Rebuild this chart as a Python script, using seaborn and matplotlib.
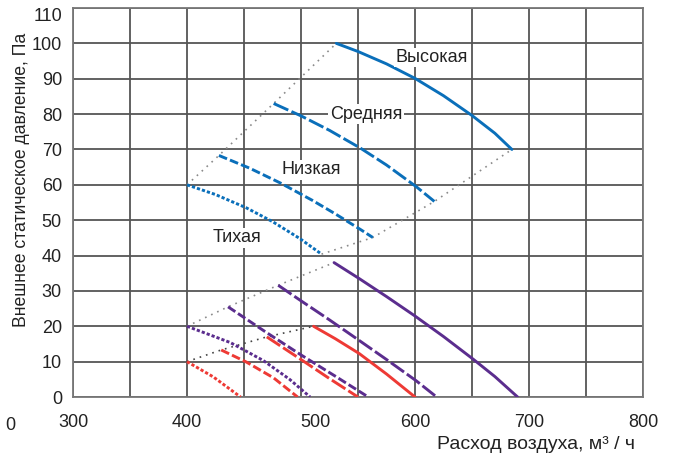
import numpy as np
import pandas as pd
import matplotlib
matplotlib.use("Agg")
import matplotlib.pyplot as plt
import matplotlib.transforms as mtransforms
import seaborn as sns

# -------------------- данные --------------------
# синие кривые (верхняя группа)
blue_high_x = [531, 550, 575, 600, 625, 650, 670, 685]
blue_high_y = [100, 97.7, 94.2, 90.1, 85.2, 79.6, 74.6, 70]
blue_mid_x = [476, 500, 525, 552, 575, 601, 617]
blue_mid_y = [83, 79.5, 75.4, 70.4, 65.6, 59.5, 55.3]
blue_low_x = [428, 455, 482, 510, 530, 552, 563]
blue_low_y = [68.3, 64.7, 60.5, 55.6, 51.8, 47.4, 45.1]
blue_quiet_x = [400, 425, 452, 475, 499, 518]
blue_quiet_y = [60, 57.25, 53.5, 49.6, 44.8, 40.4]

# фиолетовые кривые
purple_high_x = [529, 551, 575, 600, 625, 651, 670, 690]
purple_high_y = [38, 33.5, 28.4, 22.9, 17.1, 10.7, 5.8, 0]
purple_mid_x = [480, 500, 525, 551, 575, 601, 619]
purple_mid_y = [31.6, 27.2, 21.8, 16.0, 10.6, 4.6, 0]
purple_low_x = [436, 468, 500, 530, 559]
purple_low_y = [25.5, 18.6, 11.9, 5.9, 0]
purple_quiet_x = [400, 438, 467, 490, 508]
purple_quiet_y = [20, 15.4, 10.3, 5.0, 0]

# красные кривые
red_high_x = [511, 530, 551, 575, 600]
red_high_y = [20, 16.5, 12.3, 6.5, 0]
red_mid_x = [470, 500, 525, 550]
red_mid_y = [17, 10.6, 5.2, 0]
red_low_x = [430, 452, 476, 497]
red_low_y = [13.3, 9.9, 5.4, 0]
red_quiet_x = [400, 423, 447]
red_quiet_y = [10, 5.7, 0]

speeds = ["Тихая", "Низкая", "Средняя", "Высокая"]
label_x = [444, 509, 557, 615]
label_y = [45, 64.3, 80, 96]

x_ticks = [300, 350, 400, 450, 500, 550, 600, 650, 700, 750, 800]
x_ticklabels = ["300", "", "400", "", "500", "", "600", "", "700", "", "800"]
y_ticks = [0, 10, 20, 30, 40, 50, 60, 70, 80, 90, 100, 110]

COLORS = {"blue": "#0a6fba", "purple": "#5b2d8e", "red": "#ee3a35"}
DASHES = {"Высокая": "", "Средняя": (5.5, 1.2), "Низкая": (3.0, 1.1), "Тихая": (1.1, 0.7)}

curves = {
    ("blue", "Высокая"): (blue_high_x, blue_high_y),
    ("blue", "Средняя"): (blue_mid_x, blue_mid_y),
    ("blue", "Низкая"): (blue_low_x, blue_low_y),
    ("blue", "Тихая"): (blue_quiet_x, blue_quiet_y),
    ("purple", "Высокая"): (purple_high_x, purple_high_y),
    ("purple", "Средняя"): (purple_mid_x, purple_mid_y),
    ("purple", "Низкая"): (purple_low_x, purple_low_y),
    ("purple", "Тихая"): (purple_quiet_x, purple_quiet_y),
    ("red", "Высокая"): (red_high_x, red_high_y),
    ("red", "Средняя"): (red_mid_x, red_mid_y),
    ("red", "Низкая"): (red_low_x, red_low_y),
    ("red", "Тихая"): (red_quiet_x, red_quiet_y),
}

rows = []
for (grp, spd), (xs, ys) in curves.items():
    for xv, yv in zip(xs, ys):
        rows.append({"flow": xv, "pressure": yv, "group": grp, "speed": spd})
df = pd.DataFrame(rows)

sns.set_style("white")
plt.rcParams["font.family"] = ["Liberation Sans", "DejaVu Sans"]

fig = plt.figure(figsize=(6.78, 4.61), dpi=100)
ax = fig.add_axes([73 / 678, 1 - 397 / 461, 570 / 678, 389 / 461])

# огибающие (серые пунктиры) через начала/концы кривых
env_specs = [
    ("blue", "start", "#8a8a8a"),
    ("blue", "end", "#8a8a8a"),
    ("purple", "start", "#8a8a8a"),
    ("red", "start", "#444444"),
]
for grp, which, col in env_specs:
    ex, ey = [], []
    for spd in speeds:
        xs, ys = curves[(grp, spd)]
        i = 0 if which == "start" else -1
        ex.append(xs[i])
        ey.append(ys[i])
    ax.plot(ex, ey, color=col, lw=1.2, dashes=(1, 3), zorder=2)

sns.lineplot(
    data=df, x="flow", y="pressure",
    hue="group", style="speed",
    palette=COLORS, dashes=DASHES,
    estimator=None, sort=False, legend=False,
    linewidth=2.1, ax=ax, zorder=3,
)

for name, lx, ly in zip(speeds, label_x, label_y):
    ax.text(lx, ly, name, fontsize=13, ha="center", va="center", color="#222222",
            bbox=dict(facecolor="white", edgecolor="none", pad=1.0), zorder=4)

ax.set_xlim(300, 800)
ax.set_ylim(0, 110)
ax.set_xticks(x_ticks)
ax.set_xticklabels(x_ticklabels)
ax.set_yticks(y_ticks)
ax.grid(True, color="#555555", lw=1.3, zorder=0)
ax.set_axisbelow(True)
for sp in ax.spines.values():
    sp.set_color("#777777")
    sp.set_linewidth(1.3)
ax.tick_params(axis="both", length=0, labelsize=13, colors="#222222")
ax.tick_params(axis="x", pad=12)
ax.tick_params(axis="y", pad=8)

# небольшие сдвиги подписей, как в оригинале
lbl500 = ax.get_xticklabels()[4]
lbl500.set_transform(lbl500.get_transform() + mtransforms.ScaledTranslation(0.14, 0, fig.dpi_scale_trans))
lbl110 = ax.get_yticklabels()[-1]
lbl110.set_transform(lbl110.get_transform() + mtransforms.ScaledTranslation(0, -0.06, fig.dpi_scale_trans))

ax.set_xlabel("Расход воздуха, м³ / ч", fontsize=14, color="#222222")
ax.xaxis.set_label_coords((635 - 73) / 570, (397 - 444) / 389)
ax.xaxis.label.set_ha("right")
ax.xaxis.label.set_va("center")
ax.set_ylabel("Внешнее статическое давление, Па", fontsize=12.7, color="#222222")
ax.yaxis.set_label_coords((22 - 73) / 570, (397 - 180) / 389)
ax.yaxis.label.set_va("center")

fig.text(5 / 678, 1 - 425 / 461, "0", fontsize=13, ha="left", va="center", color="#222222")

fig.savefig("out.png", dpi=100, facecolor="white")
